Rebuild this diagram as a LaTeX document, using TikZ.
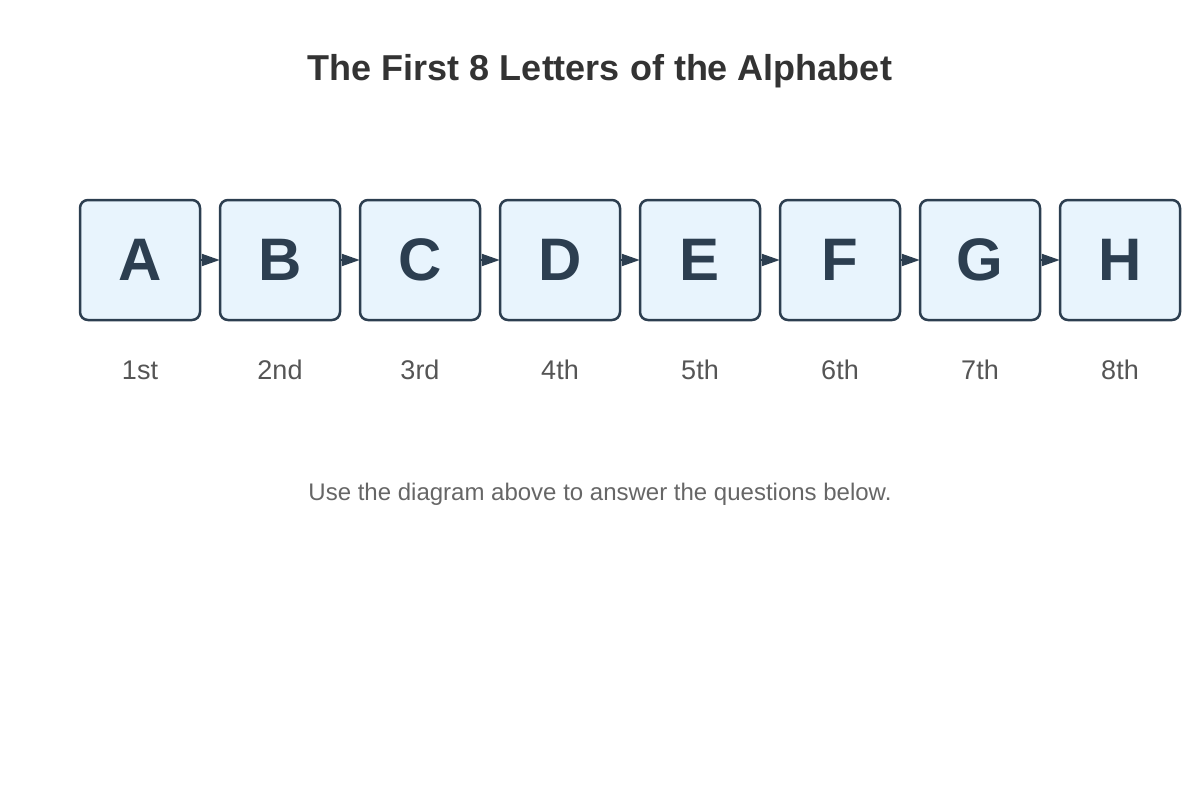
\documentclass[tikz,border=0pt]{standalone}
\usepackage{fontspec}
\setmainfont{Liberation Sans}
\usetikzlibrary{arrows.meta}
\definecolor{boxedge}{HTML}{2C3E50}
\definecolor{boxfill}{HTML}{E8F4FD}
\definecolor{titlec}{HTML}{333333}
\definecolor{labc}{HTML}{555555}
\definecolor{subc}{HTML}{666666}
\tikzset{
  letterbox/.style={draw=boxedge, fill=boxfill, line width=2.5pt, rounded corners=8pt,
    minimum width=120pt, minimum height=120pt, inner sep=0pt, text=boxedge,
    font=\fontsize{60}{60}\selectfont\bfseries},
  ordlabel/.style={text=labc, font=\fontsize{27}{27}\selectfont, inner sep=0pt},
  link/.style={draw=boxedge, line width=2pt, -{Triangle[length=18pt,width=12pt]}, shorten >=-1pt}
}
\begin{document}
\begin{tikzpicture}[x=1pt,y=-1pt]
\useasboundingbox (0,0) rectangle (1200,800);
\node[text=titlec, font=\fontsize{36}{36}\selectfont\bfseries] (title) at (600,71) {The First 8 Letters of the Alphabet};
\foreach \L/\O [count=\i from 0] in {A/1st,B/2nd,C/3rd,D/4th,E/5th,F/6th,G/7th,H/8th}{
  \node[letterbox] (b\i) at (140+140*\i,260) {\L};
  \node[ordlabel] (l\i) at (140+140*\i,370) {\O};
}
\foreach \i [evaluate=\i as \j using int(\i+1)] in {0,...,6}{
  \draw[link] (b\i.east) -- (b\j.west);
}
\node[text=subc, font=\fontsize{24}{24}\selectfont] (sub) at (600,494) {Use the diagram above to answer the questions below.};
\end{tikzpicture}
\end{document}
